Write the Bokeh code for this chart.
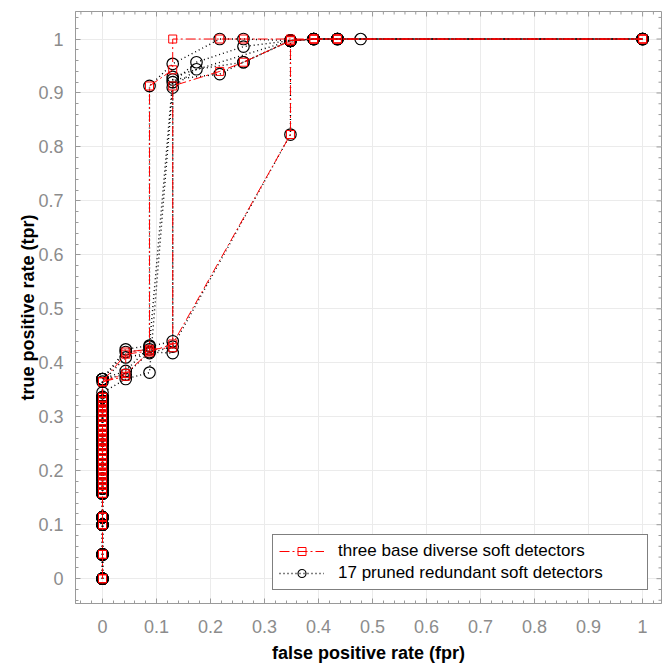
import math
from bokeh.plotting import figure
from bokeh.models import SingleIntervalTicker, CustomJSTickFormatter, Legend, LegendItem
from bokeh.embed import file_html
from bokeh.resources import INLINE

# ---------------- data ----------------
# shared operating points on the fpr = 0 column
col_tpr = [0.0, 0.045, 0.1, 0.114, 0.158, 0.167, 0.176, 0.185, 0.194, 0.203,
           0.212, 0.221, 0.230, 0.239, 0.248, 0.257, 0.266, 0.275, 0.284,
           0.293, 0.302, 0.311, 0.320, 0.329, 0.336]

# three base diverse soft detectors (red)
red_a_fpr = [0.0, 0.043, 0.087, 0.087, 0.13, 0.13, 0.217, 0.261, 0.348, 0.391, 0.435, 1.0]
red_a_tpr = [0.365, 0.416, 0.422, 0.913, 0.943, 1.0, 1.0, 1.0, 1.0, 1.0, 1.0, 1.0]
red_b_fpr = [0.0, 0.043, 0.043, 0.087, 0.13, 0.13, 0.217, 0.261, 0.348, 0.391, 0.435, 1.0]
red_b_tpr = [0.365, 0.375, 0.42, 0.425, 0.428, 0.913, 0.94, 0.957, 0.997, 1.0, 1.0, 1.0]
red_c_fpr = [0.0, 0.043, 0.087, 0.13, 0.348, 0.348, 0.391, 0.435, 1.0]
red_c_tpr = [0.365, 0.38, 0.42, 0.435, 0.823, 0.997, 1.0, 1.0, 1.0]

# 17 pruned redundant soft detectors (black)
blk_a_fpr = [0.0, 0.043, 0.087, 0.087, 0.13, 0.217, 0.261, 0.348, 0.391, 0.435, 1.0]
blk_a_tpr = [0.37, 0.42, 0.425, 0.913, 0.954, 1.0, 1.0, 0.997, 1.0, 1.0, 1.0]
blk_b_fpr = [0.0, 0.043, 0.087, 0.13, 0.13, 0.174, 0.261, 0.348, 0.391, 0.435, 1.0]
blk_b_tpr = [0.37, 0.385, 0.43, 0.44, 0.92, 0.957, 0.986, 0.997, 1.0, 1.0, 1.0]
blk_c_fpr = [0.0, 0.043, 0.087, 0.13, 0.174, 0.261, 0.348, 0.391, 0.478, 1.0]
blk_c_tpr = [0.345, 0.37, 0.382, 0.91, 0.944, 0.957, 0.997, 1.0, 1.0, 1.0]
blk_d_fpr = [0.0, 0.043, 0.087, 0.13, 0.348, 0.348, 0.391, 0.435, 1.0]
blk_d_tpr = [0.365, 0.41, 0.418, 0.43, 0.823, 0.997, 1.0, 1.0, 1.0]
blk_e_fpr = [0.0, 0.043, 0.087, 0.13, 0.217, 0.261, 0.348, 0.391, 0.435, 1.0]
blk_e_tpr = [0.37, 0.425, 0.432, 0.925, 0.935, 0.957, 0.997, 1.0, 1.0, 1.0]
blk_f_fpr = [0.0, 0.043, 0.087, 0.13, 0.13, 0.348, 0.391, 0.435, 1.0]
blk_f_tpr = [0.37, 0.378, 0.42, 0.418, 0.93, 0.997, 1.0, 1.0, 1.0]

red_curves = [(red_a_fpr, red_a_tpr), (red_b_fpr, red_b_tpr), (red_c_fpr, red_c_tpr)]
blk_curves = [(blk_a_fpr, blk_a_tpr), (blk_b_fpr, blk_b_tpr), (blk_c_fpr, blk_c_tpr),
              (blk_d_fpr, blk_d_tpr), (blk_e_fpr, blk_e_tpr), (blk_f_fpr, blk_f_tpr)]

x_label = "false positive rate (fpr)"
y_label = "true positive rate (tpr)"
red_name = "three base diverse soft detectors"
blk_name = "17 pruned redundant soft detectors"

# tick positions (0.1 major, 0.02 minor)
major_ticks = [i / 10 for i in range(11)]
minor_ticks = [k / 50 for k in range(-2, 53) if k % 5 != 0]

X_RANGE = (-0.05, 1.035)
Y_RANGE = (-0.046, 1.051)

# ---------------- figure ----------------
FONT = "Liberation Sans"
GREY = "#8c8c8c"
FRAME = "#9a9a9a"

p = figure(width=665, height=667, x_range=X_RANGE, y_range=Y_RANGE,
           output_backend="svg", toolbar_location=None,
           min_border_left=75, min_border_right=4, min_border_top=11, min_border_bottom=64,
           x_axis_label=x_label, y_axis_label=y_label)
p.background_fill_color = "white"
p.border_fill_color = "white"
p.outline_line_color = FRAME

fmt = CustomJSTickFormatter(code="return Number(tick.toFixed(2)).toString();")

for ax in (p.xaxis[0], p.yaxis[0]):
    ax.ticker = SingleIntervalTicker(interval=0.1, num_minor_ticks=5)
    ax.formatter = fmt
    ax.axis_line_color = FRAME
    ax.major_tick_line_color = FRAME
    ax.minor_tick_line_color = FRAME
    ax.major_tick_in = 5
    ax.major_tick_out = 0
    ax.minor_tick_in = 3
    ax.minor_tick_out = 0
    ax.major_label_text_font = FONT
    ax.major_label_text_font_size = "18px"
    ax.major_label_text_color = GREY
    ax.axis_label_text_font = FONT
    ax.axis_label_text_font_size = "18px"
    ax.axis_label_text_font_style = "bold"
    ax.axis_label_text_color = "black"

p.xaxis[0].major_label_standoff = 16
p.xaxis[0].axis_label_standoff = 7
p.yaxis[0].major_label_standoff = 12
p.yaxis[0].axis_label_standoff = -3

p.xgrid.ticker = SingleIntervalTicker(interval=0.1)
p.ygrid.ticker = SingleIntervalTicker(interval=0.1)
p.grid.grid_line_color = "#ebebeb"
p.grid.grid_line_width = 1

# inward ticks on the top and right edges of the box
top_major = [t for t in major_ticks if X_RANGE[0] <= t <= X_RANGE[1]]
top_minor = [t for t in minor_ticks if X_RANGE[0] <= t <= X_RANGE[1]]
right_major = [t for t in major_ticks if Y_RANGE[0] <= t <= Y_RANGE[1]]
right_minor = [t for t in minor_ticks if Y_RANGE[0] <= t <= Y_RANGE[1]]
p.scatter(top_major, [Y_RANGE[1]] * len(top_major), marker="dash", size=10,
          angle=math.pi / 2, line_color=FRAME, line_width=1)
p.scatter(top_minor, [Y_RANGE[1]] * len(top_minor), marker="dash", size=6,
          angle=math.pi / 2, line_color=FRAME, line_width=1)
p.scatter([X_RANGE[1]] * len(right_major), right_major, marker="dash", size=10,
          line_color=FRAME, line_width=1)
p.scatter([X_RANGE[1]] * len(right_minor), right_minor, marker="dash", size=6,
          line_color=FRAME, line_width=1)

# ---------------- curves ----------------
blk_line0 = blk_sc0 = None
for fx, ty in blk_curves:
    xs = [0.0] * len(col_tpr) + fx
    ys = col_tpr + ty
    ln = p.line(xs, ys, line_color="black", line_width=1.4, line_dash="1 3")
    sc = p.scatter(xs, ys, marker="circle", size=11.5, fill_color=None,
                   line_color="black", line_width=1.2)
    if blk_line0 is None:
        blk_line0, blk_sc0 = ln, sc

red_line0 = red_sc0 = None
for fx, ty in red_curves:
    xs = [0.0] * len(col_tpr) + fx
    ys = col_tpr + ty
    ln = p.line(xs, ys, line_color="red", line_width=1, line_dash="10 3 2 3")
    sc = p.scatter(xs, ys, marker="square", size=8, fill_color=None,
                   line_color="red", line_width=1)
    if red_line0 is None:
        red_line0, red_sc0 = ln, sc

legend = Legend(items=[LegendItem(label=red_name, renderers=[red_line0, red_sc0]),
                       LegendItem(label=blk_name, renderers=[blk_line0, blk_sc0])],
                location="bottom_right")
legend.margin = 13
legend.padding = 6
legend.spacing = 2
legend.glyph_width = 45
legend.glyph_height = 20
legend.label_height = 20
legend.label_width = 303
legend.label_standoff = 14
legend.label_text_font = FONT
legend.label_text_font_size = "17px"
legend.label_text_color = "black"
legend.border_line_color = "black"
legend.border_line_width = 1
legend.background_fill_color = "white"
legend.background_fill_alpha = 1
p.add_layout(legend, "center")

open("out.html", "w").write(file_html(p, INLINE))
